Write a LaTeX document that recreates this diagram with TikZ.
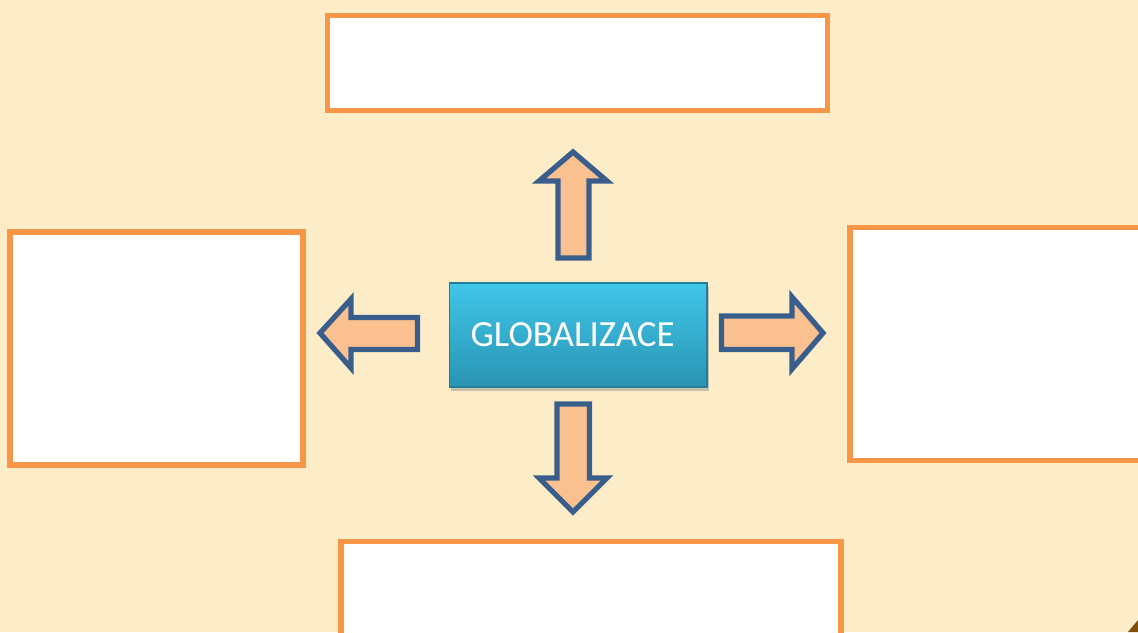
\documentclass[tikz,border=0pt]{standalone}
\usepackage{fontspec}
\setmainfont{Carlito}
\usetikzlibrary{shadows}
\definecolor{paper}{RGB}{253,236,200}
\definecolor{boxorange}{RGB}{247,150,70}
\definecolor{arrowfill}{RGB}{250,192,144}
\definecolor{arrowline}{RGB}{58,94,140}
\definecolor{tealtop}{RGB}{64,198,232}
\definecolor{tealbot}{RGB}{42,148,180}
\definecolor{curl}{RGB}{128,80,10}

\begin{document}
\begin{tikzpicture}
[x=0.02cm,y=-0.02cm,
 answer/.style={rectangle,draw=boxorange,fill=white,line width=3pt,inner sep=0pt},
 blockarrow/.style={draw=arrowline,fill=arrowfill,line width=3pt,line join=miter},
 centre/.style={rectangle,top color=tealtop,bottom color=tealbot,draw=tealbot!85!black,
   line width=0.6pt,inner sep=0pt,minimum width=5.16cm,minimum height=2.08cm,
   text width=4.3cm,align=left,text=white,font=\fontsize{21}{25}\selectfont,
   drop shadow={opacity=0.4,shadow xshift=1pt,shadow yshift=-2.5pt}}]
\clip (0,0) rectangle (1138,632);
\fill[paper] (0,0) rectangle (1138,632);
% empty boxes round the middle
\node[answer,minimum width=10cm,minimum height=1.9cm]  (top)    at (577.5,63)   {};
\node[answer,minimum width=5.86cm,minimum height=4.66cm] (left) at (156.5,348.5) {};
\node[answer,minimum width=6.2cm,minimum height=4.67cm]  (right) at (1005,344)  {};
\node[answer,minimum width=10cm,minimum height=2.4cm]  (bottom) at (591,601.5)  {};
% block arrows
\draw[blockarrow] (573,152) -- (607,181) -- (589,181) -- (589,258)
                  -- (558,258) -- (558,181) -- (539,181) -- cycle;
\draw[blockarrow] (573,512) -- (607,478) -- (589.5,478) -- (589.5,404)
                  -- (557,404) -- (557,478) -- (539,478) -- cycle;
\draw[blockarrow] (320,333) -- (351,299) -- (351,317.5) -- (417.5,317.5)
                  -- (417.5,349.5) -- (351,349.5) -- (351,368) -- cycle;
\draw[blockarrow] (823,333) -- (792,297) -- (792,316) -- (721.5,316)
                  -- (721.5,349.5) -- (792,349.5) -- (792,369) -- cycle;
% middle
\node[centre] (glob) at (578,335) {GLOBALIZACE};
% page corner
\fill[curl] (1128,632) -- (1138,620) -- (1138,632) -- cycle;
\end{tikzpicture}
\end{document}
